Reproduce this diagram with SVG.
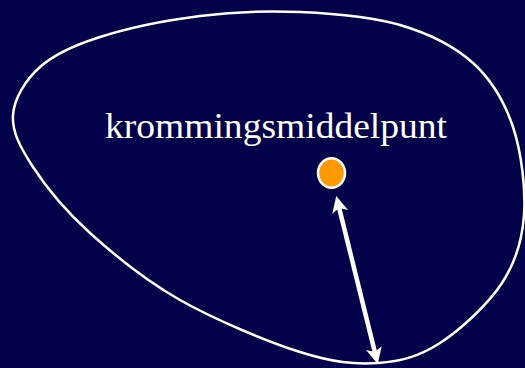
<svg xmlns="http://www.w3.org/2000/svg" width="525" height="368" viewBox="0 0 525 368">
<defs>
<style>
.curve{fill:none;stroke:#fff;stroke-width:2.5}
.lbl{font-family:"Liberation Serif","Times New Roman",serif;font-size:35px;fill:#fff}
.arrow{stroke:#fff;stroke-width:4.5;fill:none}
</style>
<marker id="ah" viewBox="0 0 10 10" refX="6" refY="5" markerWidth="4.2" markerHeight="3.6" orient="auto-start-reverse" markerUnits="strokeWidth">
<path d="M0,0 L10,5 L0,10 L2.5,5 Z" fill="#fff"/>
</marker>
</defs>
<rect width="525" height="368" fill="#030149"/>
<g id="curve">
<path class="curve" d="M13,115 C11.8,131.7 20.2,147.3 33,167 C45.8,186.7 65.5,210.8 90,233 C114.5,255.2 145,280.2 180,300 C215,319.8 267,341.5 300,352 C333,362.5 354.7,364.5 378,363 C401.3,361.5 419.3,356.3 440,343 C460.7,329.7 488,304.3 502,283 C516,261.7 522.2,241 524,215 C525.8,189 521.5,152.3 513,127 C504.5,101.7 491.8,80 473,63 C454.2,46 428.8,33.5 400,25 C371.2,16.5 333.3,13.5 300,12 C266.7,10.5 233.3,11.8 200,16 C166.7,20.2 126.7,28.5 100,37 C73.3,45.5 54.5,54 40,67 C25.5,80 14.2,98.3 13,115 Z"/>
</g>
<g id="label">
<text class="lbl" x="105" y="138" textLength="342" lengthAdjust="spacingAndGlyphs">krommingsmiddelpunt</text>
</g>
<g id="center">
<ellipse cx="331.5" cy="173" rx="13.5" ry="14.8" fill="#ff9900" stroke="#fff" stroke-width="2.5"/>
</g>
<g id="connectors">
<line class="arrow" x1="337.8" y1="202.4" x2="376.2" y2="357.6" marker-start="url(#ah)" marker-end="url(#ah)"/>
</g>
</svg>
